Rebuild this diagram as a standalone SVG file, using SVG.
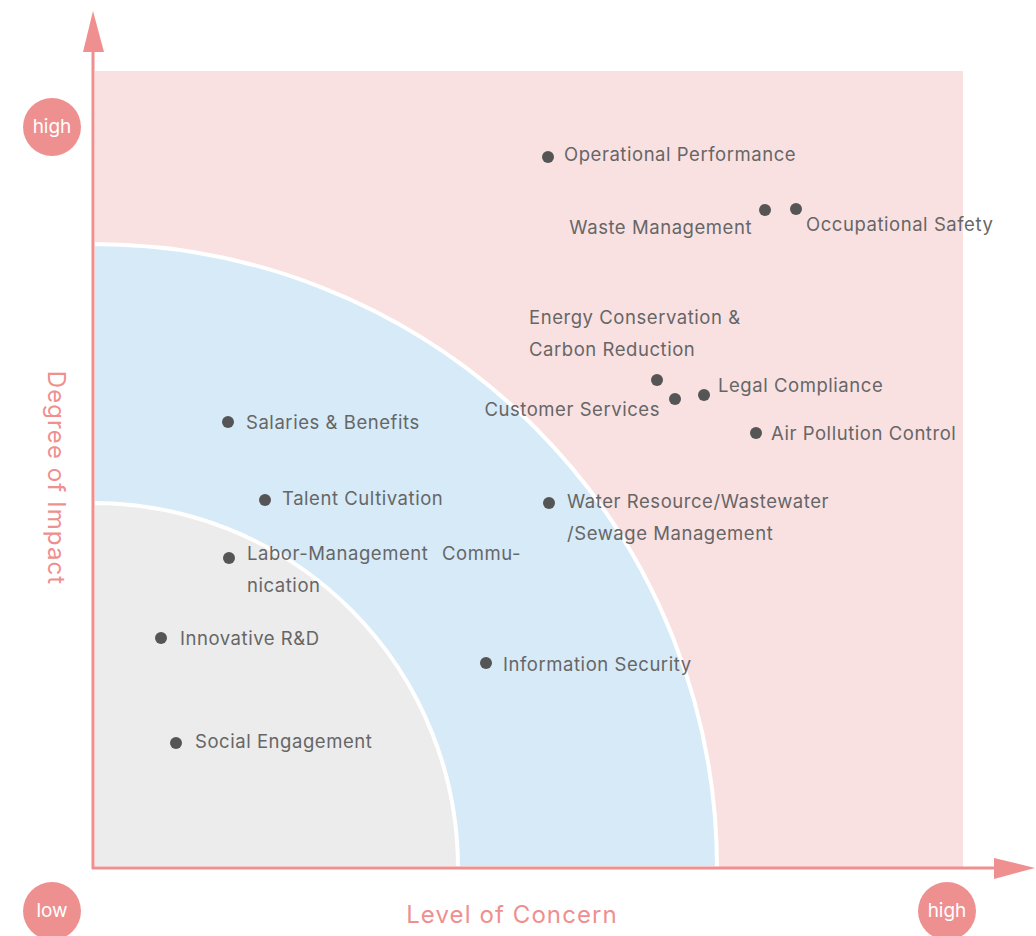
<svg xmlns="http://www.w3.org/2000/svg" width="1036" height="936" viewBox="0 0 1036 936">
<style>
.lbl{font-family:Inter,"Noto Sans","Liberation Sans",sans-serif;font-size:18.5px;letter-spacing:0.55px;fill:#666}
.dot{fill:#555}
.axt{font-family:Inter,"Noto Sans","Liberation Sans",sans-serif;font-size:24px;letter-spacing:1.1px;fill:#ef8f8f}
.bt{font-family:Inter,"Noto Sans","Liberation Sans",sans-serif;font-size:19px;fill:#fff;text-anchor:middle}
.bc{fill:#ee9090}
</style>
<rect width="1036" height="936" fill="#fff"/>
<g id="zones">
<rect x="95" y="71" width="868" height="796" fill="#f9e1e2"/>
<path d="M93 244 A624 624 0 0 1 717 868 L93 868 Z" fill="#d6eaf8" stroke="#fff" stroke-width="4"/>
<path d="M93 503 A365 365 0 0 1 458 868 L93 868 Z" fill="#ececec" stroke="#fff" stroke-width="4"/>
</g>
<g id="axes">
<line x1="93" y1="48" x2="93" y2="869" stroke="#ef8f8f" stroke-width="3"/>
<polygon points="93,11 83,52 104,52" fill="#ef8f8f"/>
<line x1="92" y1="868" x2="998" y2="868" stroke="#ef8f8f" stroke-width="3"/>
<polygon points="1035,868 994,858 994,879" fill="#ef8f8f"/>
</g>
<g id="badge-high-y"><circle class="bc" cx="52" cy="127" r="29"/><text class="bt" x="52" y="133">high</text></g>
<g id="badge-low"><circle class="bc" cx="52" cy="911" r="29"/><text class="bt" x="52" y="917">low</text></g>
<g id="badge-high-x"><circle class="bc" cx="947" cy="911" r="29"/><text class="bt" x="947" y="917">high</text></g>
<text class="axt" x="0" y="0" transform="translate(48,478) rotate(90)" text-anchor="middle">Degree of Impact</text>
<text class="axt" x="512" y="923" text-anchor="middle">Level of Concern</text>
<g id="operational-performance"><circle class="dot" cx="548" cy="157" r="6"/><text class="lbl" x="564" y="161">Operational Performance</text></g>
<g id="waste-management"><circle class="dot" cx="765" cy="210" r="6"/><text class="lbl" x="752" y="234" text-anchor="end">Waste Management</text></g>
<g id="occupational-safety"><circle class="dot" cx="796" cy="209" r="6"/><text class="lbl" x="806" y="231">Occupational Safety</text></g>
<g id="energy-conservation"><circle class="dot" cx="657" cy="380" r="6"/><text class="lbl" x="529" y="324">Energy Conservation &amp;</text><text class="lbl" x="529" y="356">Carbon Reduction</text></g>
<g id="customer-services"><circle class="dot" cx="675" cy="399" r="6"/><text class="lbl" x="660" y="416" text-anchor="end">Customer Services</text></g>
<g id="legal-compliance"><circle class="dot" cx="704" cy="395" r="6"/><text class="lbl" x="718" y="392">Legal Compliance</text></g>
<g id="air-pollution-control"><circle class="dot" cx="756" cy="433" r="6"/><text class="lbl" x="771" y="440">Air Pollution Control</text></g>
<g id="salaries-benefits"><circle class="dot" cx="228" cy="422" r="6"/><text class="lbl" x="246" y="429">Salaries &amp; Benefits</text></g>
<g id="talent-cultivation"><circle class="dot" cx="265" cy="500" r="6"/><text class="lbl" x="282" y="505">Talent Cultivation</text></g>
<g id="water-resource"><circle class="dot" cx="549" cy="503" r="6"/><text class="lbl" x="567" y="508">Water Resource/Wastewater</text><text class="lbl" x="567" y="540">/Sewage Management</text></g>
<g id="labor-management"><circle class="dot" cx="229" cy="558" r="6"/><text class="lbl" y="560"><tspan x="247">Labor-Management</tspan><tspan x="442">Commu-</tspan></text><text class="lbl" x="247" y="592">nication</text></g>
<g id="innovative-rd"><circle class="dot" cx="161" cy="638" r="6"/><text class="lbl" x="180" y="645">Innovative R&amp;D</text></g>
<g id="information-security"><circle class="dot" cx="486" cy="663" r="6"/><text class="lbl" x="503" y="671">Information Security</text></g>
<g id="social-engagement"><circle class="dot" cx="176" cy="743" r="6"/><text class="lbl" x="195" y="748">Social Engagement</text></g>
</svg>
